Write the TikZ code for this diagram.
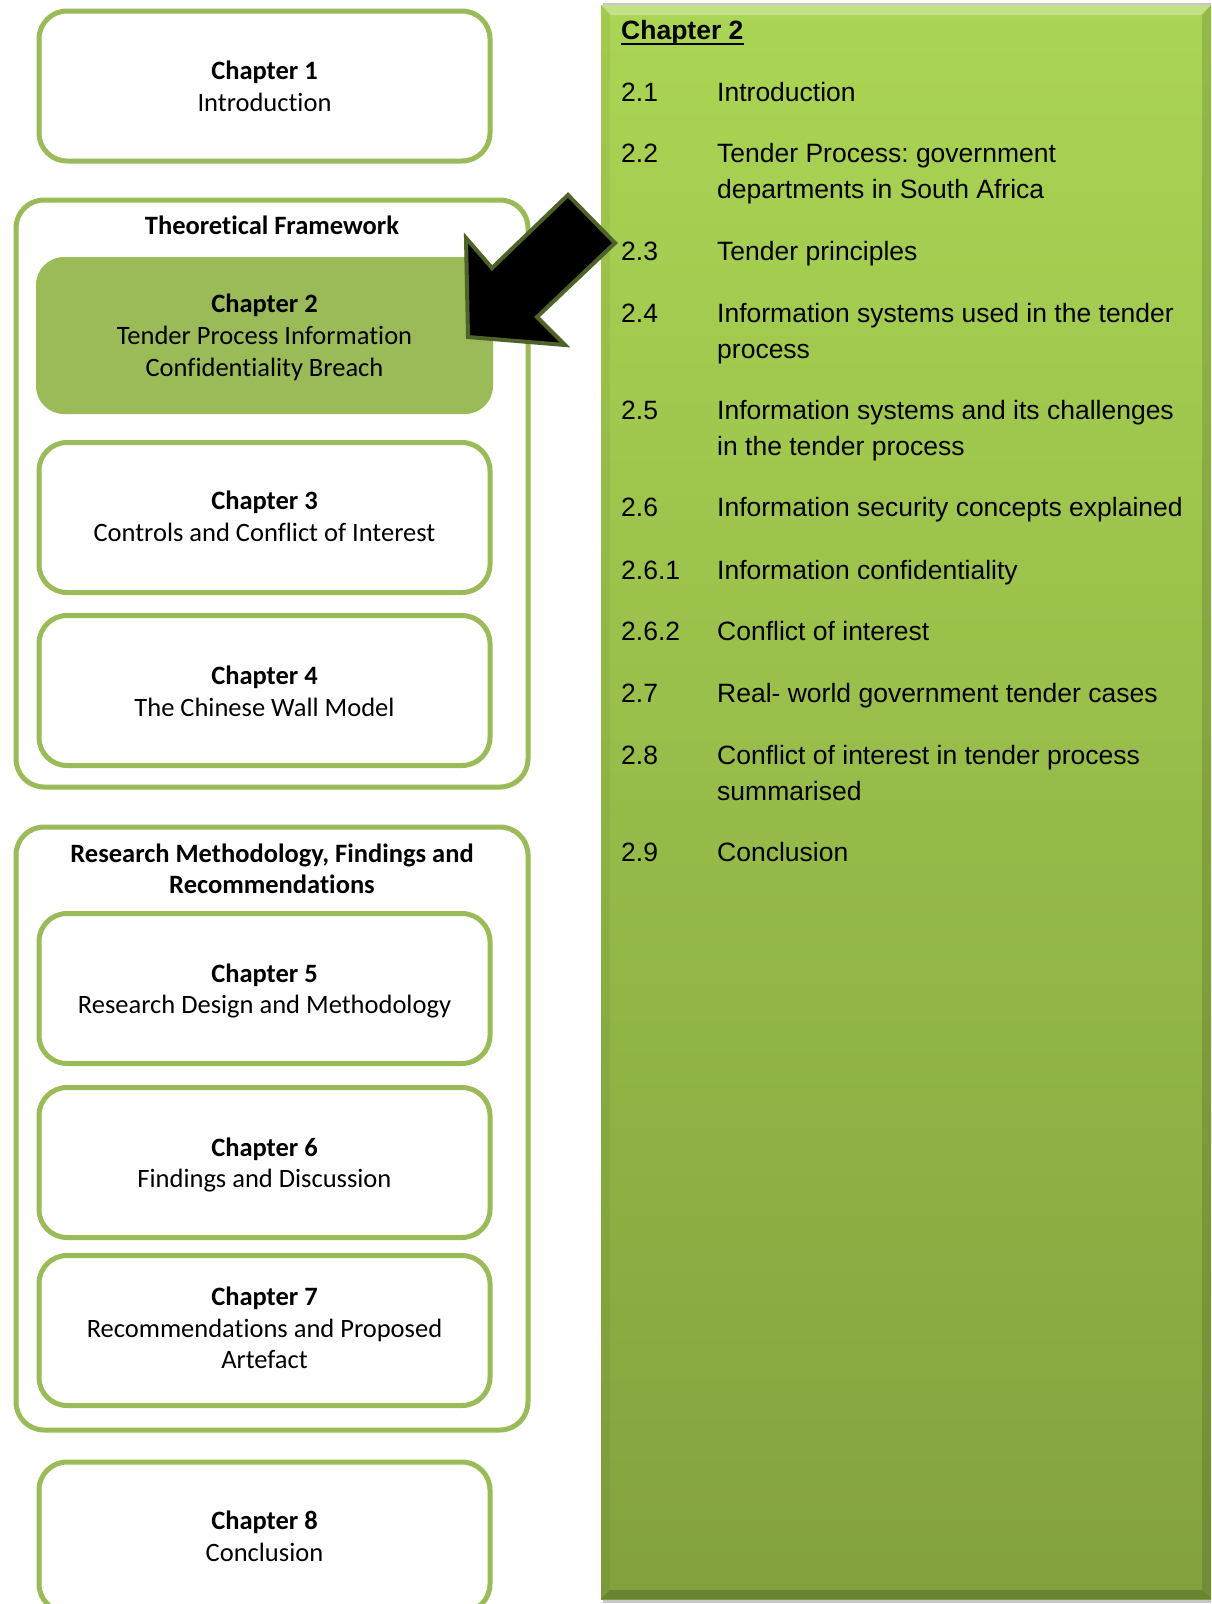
\documentclass[tikz,border=0pt]{standalone}
\usepackage{fontspec}
\newfontfamily\carl[Ligatures=NoCommon]{Carlito}
\newfontfamily\arl[Ligatures=NoCommon]{Liberation Sans}
\definecolor{boxgreen}{RGB}{155,187,89}
\definecolor{arrowedge}{RGB}{79,98,40}
\definecolor{paneltop}{RGB}{171,213,84}
\definecolor{panelbot}{RGB}{131,162,62}
\frenchspacing
\begin{document}
\begin{tikzpicture}[x=1pt,y=-1pt,
  chbox/.style={draw=boxgreen, line width=5pt, rounded corners=28pt, fill=white, minimum width=451pt, minimum height=150pt, inner sep=0pt},
  chfill/.style={fill=boxgreen, rounded corners=28pt, minimum width=457pt, minimum height=157pt, inner sep=0pt},
  grpbox/.style={draw=boxgreen, line width=5pt, rounded corners=28pt, minimum width=512pt, inner sep=0pt},
  ltxt/.style={font=\carl\fontsize{26.5}{32}\selectfont, inner sep=0pt, anchor=base},
  lbold/.style={font=\carl\bfseries\fontsize{26.5}{32}\selectfont, inner sep=0pt, anchor=base},
  ptxt/.style={font=\arl\fontsize{26.5}{35}\selectfont, inner sep=0pt, anchor=base west},
  phead/.style={font=\arl\bfseries\fontsize{26.5}{35}\selectfont, inner sep=0pt, anchor=base west},
  bigarrow/.style={fill=black, draw=arrowedge, line width=4pt, line join=miter},
]
\clip (0,0) rectangle (1211,1604);
\fill[white] (0,0) rectangle (1211,1604);

% ---------- right panel ----------
\fill[black!22] (603,3) rectangle (1211,1603);
\node[shade, top color=paneltop, bottom color=panelbot, minimum width=610pt, minimum height=1594pt, inner sep=0pt] (panel) at (906,802) {};
\fill[white, opacity=0.30] (601,5) -- (1211,5) -- (1201,15) -- (611,15) -- cycle;
\fill[black, opacity=0.13] (1211,5) -- (1211,1599) -- (1202,1590) -- (1202,15) -- cycle;
\fill[black, opacity=0.18] (601,1599) -- (1211,1599) -- (1202,1590) -- (610,1590) -- cycle;
\fill[black, opacity=0.05] (601,5) -- (610,15) -- (610,1590) -- (601,1599) -- cycle;

\node[phead] (ph) at (621,39.5) {Chapter 2};
\draw[line width=2pt] ([yshift=-4pt]ph.base west) -- ([yshift=-4pt]ph.base east);

\node[ptxt] (n21) at (621,101.5) {2.1};
\node[ptxt] (t21) at (717,101.5) {Introduction};
\node[ptxt] (n22) at (621,162.5) {2.2};
\node[ptxt] (t22a) at (717,162.5) {Tender Process: government};
\node[ptxt] (t22b) at (717,198.5) {departments in South Africa};
\node[ptxt] (n23) at (621,260) {2.3};
\node[ptxt] (t23) at (717,260) {Tender principles};
\node[ptxt] (n24) at (621,322) {2.4};
\node[ptxt] (t24a) at (717,322) {Information systems used in the tender};
\node[ptxt] (t24b) at (717,358) {process};
\node[ptxt] (n25) at (621,419) {2.5};
\node[ptxt] (t25a) at (717,419) {Information systems and its challenges};
\node[ptxt] (t25b) at (717,455) {in the tender process};
\node[ptxt] (n26) at (621,516) {2.6};
\node[ptxt] (t26) at (717,516) {Information security concepts explained};
\node[ptxt] (n261) at (621,579) {2.6.1};
\node[ptxt] (t261) at (717,579) {Information confidentiality};
\node[ptxt] (n262) at (621,640) {2.6.2};
\node[ptxt] (t262) at (717,640) {Conflict of interest};
\node[ptxt] (n27) at (621,702) {2.7};
\node[ptxt] (t27) at (717,702) {Real- world government tender cases};
\node[ptxt] (n28) at (621,764) {2.8};
\node[ptxt] (t28a) at (717,764) {Conflict of interest in tender process};
\node[ptxt] (t28b) at (717,800) {summarised};
\node[ptxt] (n29) at (621,861) {2.9};
\node[ptxt] (t29) at (717,861) {Conclusion};

% ---------- left column ----------
\node[grpbox, minimum height=587pt] (tf) at (272,493.5) {};
\node[grpbox, minimum height=603pt] (rm) at (272,1128.5) {};

\node[chbox] (c1) at (264.5,86) {};
\node[chfill] (c2) at (264.5,335.5) {};
\node[chbox] (c3) at (264.5,517.5) {};
\node[chbox] (c4) at (264.5,690.5) {};
\node[chbox] (c5) at (264.5,988.5) {};
\node[chbox] (c6) at (264.5,1162.5) {};
\node[chbox] (c7) at (264.5,1330.5) {};
\node[chbox] (c8) at (264.5,1537) {};

\node[lbold] (c1a) at (264.5,79.5) {Chapter 1};
\node[ltxt]  (c1b) at (264.5,111) {Introduction};
\node[lbold] (tfh) at (272,234.5) {Theoretical Framework};
\node[lbold] (c2a) at (264.5,312.5) {Chapter 2};
\node[ltxt]  (c2b) at (264.5,344) {Tender Process Information};
\node[ltxt]  (c2c) at (264.5,376) {Confidentiality Breach};
\node[lbold] (c3a) at (264.5,509.5) {Chapter 3};
\node[ltxt]  (c3b) at (264.5,541.5) {Controls and Conflict of Interest};
\node[lbold] (c4a) at (264.5,684.5) {Chapter 4};
\node[ltxt]  (c4b) at (264.5,716.5) {The Chinese Wall Model};
\node[lbold] (rmh1) at (272,862) {Research Methodology, Findings and};
\node[lbold] (rmh2) at (272,893.5) {Recommendations};
\node[lbold] (c5a) at (264.5,982.5) {Chapter 5};
\node[ltxt]  (c5b) at (264.5,1013.5) {Research Design and Methodology};
\node[lbold] (c6a) at (264.5,1156.5) {Chapter 6};
\node[ltxt]  (c6b) at (264.5,1187.5) {Findings and Discussion};
\node[lbold] (c7a) at (264.5,1305.5) {Chapter 7};
\node[ltxt]  (c7b) at (264.5,1337.5) {Recommendations and Proposed};
\node[ltxt]  (c7c) at (264.5,1368.5) {Artefact};
\node[lbold] (c8a) at (264.5,1529.5) {Chapter 8};
\node[ltxt]  (c8b) at (264.5,1561.5) {Conclusion};

% ---------- block arrow ----------
\coordinate (aA) at (466,238);
\coordinate (aB) at (468,337);
\coordinate (aC) at (565,345);
\coordinate (aD) at (537,317);
\coordinate (aE) at (615,243);
\coordinate (aF) at (568,195);
\coordinate (aG) at (492,268);
\draw[bigarrow] (aA) -- (aB) -- (aC) -- (aD) -- (aE) -- (aF) -- (aG) -- cycle;
\end{tikzpicture}
\end{document}
